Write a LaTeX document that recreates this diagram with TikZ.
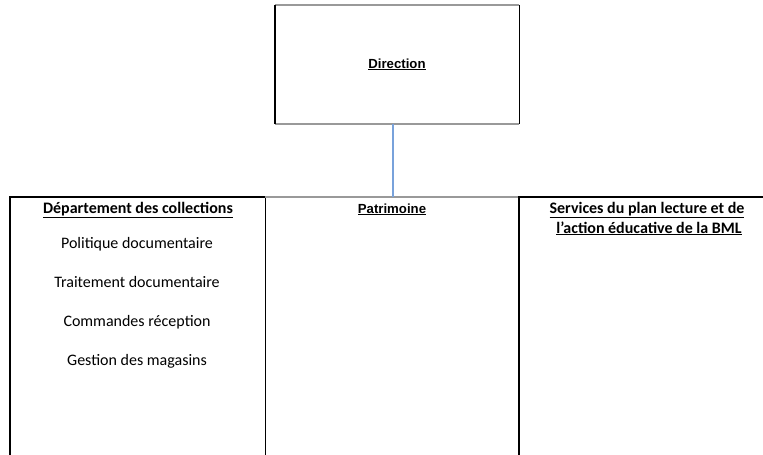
\documentclass[tikz,border=0pt]{standalone}
\usepackage{fontspec}
\setmainfont{Carlito}
\newfontfamily\arialf{Liberation Sans}
\definecolor{edgegray}{HTML}{999999}
\definecolor{linkblue}{HTML}{78A2DB}
\tikzset{
  ttl/.style={font=\fontsize{16}{20}\selectfont\bfseries, align=center, inner sep=0pt, anchor=base},
  itm/.style={font=\fontsize{16}{20}\selectfont, inner sep=0pt, anchor=base},
  atl/.style={font=\arialf\bfseries\fontsize{13.2}{15}\selectfont, inner sep=0pt, anchor=base},
  frame/.style={draw=none, inner sep=0pt},
  blk/.style={black, line width=1.4pt},
  gry/.style={edgegray, line width=1.8pt}
}
\begin{document}
\begin{tikzpicture}[x=1pt,y=-1pt]
\useasboundingbox (0,0) rectangle (763,455);
% Direction box
\node[frame, minimum width=244pt, minimum height=119pt] (dir) at (397,64.5) {};
\draw[gry] (dir.north west) -- (dir.north east);
\draw[gry] (dir.south west) -- (dir.south east);
\draw[blk] (dir.north west) -- (dir.south west);
\draw[blk] (dir.north east) -- (dir.south east);
\node[atl] (dirt) at (397,68) {\underline{Direction}};
% bottom boxes
\node[frame, minimum width=255pt, minimum height=262pt] (left) at (137.5,328) {};
\node[frame, minimum width=254pt, minimum height=262pt] (mid) at (392,328) {};
\node[frame, minimum width=259pt, minimum height=262pt] (right) at (648.5,328) {};
\draw[blk] (left.south west) -- (left.north west) -- (left.north east) -- (left.south east);
\draw[gry] (mid.north west) -- (mid.north east);
\draw[blk] (right.south west) -- (right.north west) -- (right.north east);
% connector
\coordinate (cx) at (393,197);
\draw[linkblue, line width=1.3pt] (cx |- dir.south) -- (cx);
% texts
\node[ttl] (t1) at (138,213) {\underline{Département des collections}};
\node[itm] (i1) at (137,248) {Politique documentaire};
\node[itm] (i2) at (137,287) {Traitement documentaire};
\node[itm] (i3) at (137,326) {Commandes réception};
\node[itm] (i4) at (137,365) {Gestion des magasins};
\node[atl] (t2) at (392,213) {\underline{Patrimoine}};
\node[ttl] (t3) at (647,213) {\underline{Services du plan lecture et de}};
\node[ttl] (t4) at (649,233) {\underline{l’action éducative de la BML}};
\end{tikzpicture}
\end{document}
